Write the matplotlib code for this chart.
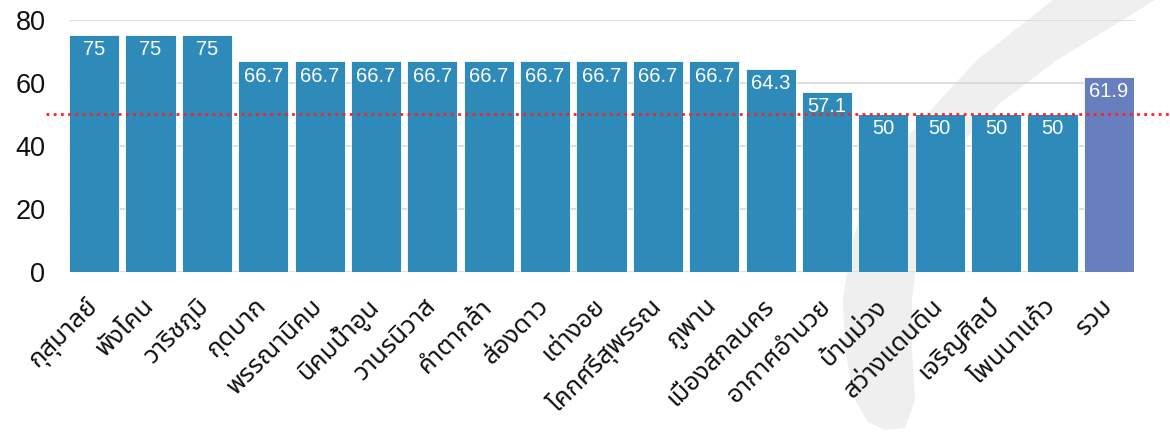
import matplotlib
matplotlib.use('Agg')
import matplotlib.pyplot as plt
from matplotlib.patches import Polygon
import numpy as np

# districts (last one is the total)
districts = ['กุสุมาลย์', 'พังโคน', 'วาริชภูมิ', 'กุดบาก', 'พรรณานิคม', 'นิคมน้ำอูน',
             'วานรนิวาส', 'คำตากล้า', 'ส่องดาว', 'เต่างอย', 'โคกศรีสุพรรณ', 'ภูพาน',
             'เมืองสกลนคร', 'อากาศอำนวย', 'บ้านม่วง', 'สว่างแดนดิน', 'เจริญศิลป์',
             'โพนนาแก้ว', 'รวม']
values = [75, 75, 75, 66.7, 66.7, 66.7, 66.7, 66.7, 66.7, 66.7, 66.7, 66.7,
          64.3, 57.1, 50, 50, 50, 50, 61.9]
value_labels = ['75', '75', '75', '66.7', '66.7', '66.7', '66.7', '66.7', '66.7',
                '66.7', '66.7', '66.7', '64.3', '57.1', '50', '50', '50', '50', '61.9']
yticks = [0, 20, 40, 60, 80]
target = 50

bar_color = '#2e8bb9'
total_color = '#687fbf'
num_font = ['Liberation Sans', 'DejaVu Sans']
thai_font = ['Noto Sans Thai', 'DejaVu Sans']

W, H = 1170, 437
fig = plt.figure(figsize=(W / 100, H / 100), dpi=100)
ax = fig.add_axes([69 / W, 1 - 272 / H, (1134 - 69) / W, (272 - 19.5) / H])
ax.patch.set_alpha(0)

# light grey watermark swoosh behind the chart (pixel coords, from top)
left_edge = [(1053, 0), (977, 60), (940, 100), (895, 150), (865, 200), (850, 250),
             (843, 300), (845, 350), (855, 400), (868, 422)]
bottom = [(885, 430), (905, 428)]
right_edge = [(915, 400), (912, 350), (912, 300), (918, 250), (930, 200),
              (955, 150), (1000, 103), (1057, 60), (1155, 0)]
pts = [(x / W, 1 - y / H) for x, y in left_edge + bottom + right_edge]
fig.patches.append(Polygon(pts, closed=True, transform=fig.transFigure,
                           facecolor='#efefef', edgecolor='none', zorder=-5))

x = np.arange(len(districts))
colors = [bar_color] * (len(districts) - 1) + [total_color]
bars = ax.bar(x, values, width=0.89, color=colors, edgecolor='#ffffff', linewidth=0.6, zorder=2)

for xi, v, lab in zip(x, values, value_labels):
    ax.annotate(lab, (xi, v), xytext=(0, -10.5), textcoords='offset points',
                ha='center', va='center', color='white', fontsize=14.5,
                family=num_font, zorder=4)

# target line
ax.axhline(target, xmin=-0.022, xmax=1.04, color='#ff2020', linestyle=(0, (1, 1.6)),
           linewidth=2, clip_on=False, zorder=3)

ax.set_xlim(-0.445, len(districts) - 0.555)
ax.set_ylim(0, 80)
ax.set_yticks(yticks)
ax.yaxis.grid(True, color='#d9d9d9', linewidth=1.2)
ax.set_axisbelow(True)
for s in ax.spines.values():
    s.set_visible(False)
ax.tick_params(axis='y', length=0, pad=17, labelsize=19.5, labelcolor='#111111')
for t in ax.get_yticklabels():
    t.set_family(num_font)

ax.set_xticks(x)
ax.set_xticklabels(districts, rotation=45, ha='right', va='center',
                   rotation_mode='anchor', fontsize=18.5, family=thai_font, color='#111111')
ax.tick_params(axis='x', length=0, pad=22)

fig.savefig('out.png', dpi=100)
